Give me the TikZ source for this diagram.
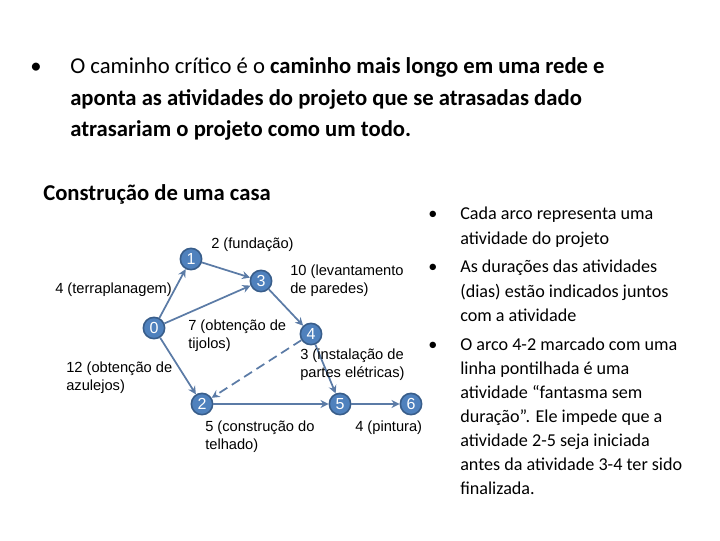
\documentclass[tikz,border=0pt]{standalone}
\usepackage{fontspec}
\setmainfont{Carlito}
\newfontfamily\arialf{Liberation Sans}
\usetikzlibrary{arrows.meta}
\definecolor{nodeblue}{HTML}{4F81BD}
\definecolor{nodeedge}{HTML}{385D8A}
\definecolor{arc}{HTML}{5B7BA6}
\tikzset{
  vtx/.style={circle,fill=nodeblue,draw=nodeedge,line width=1.2pt,minimum size=16pt,inner sep=0pt,text=white,font=\arialf\fontsize{12}{12}\selectfont},
  arcline/.style={draw=arc,line width=1.3pt,-{Stealth[length=6pt,width=6pt]}},
  lbl/.style={anchor=west,align=left,font=\arialf\fontsize{11}{13.5}\selectfont,inner sep=0pt},
  head/.style={anchor=base west,inner sep=0pt,font=\fontsize{17}{20}\selectfont},
  side/.style={anchor=base west,inner sep=0pt,font=\fontsize{13.6}{16}\selectfont}
}
\begin{document}
\begin{tikzpicture}[x=0.75pt,y=-0.75pt]
\useasboundingbox (0,0) rectangle (720,540);
% header
\node[head] (b0) at (30,73) {•};
\node[head] (h1) at (70,73) {O caminho crítico é o \textbf{caminho mais longo em uma rede e}};
\node[head] (h2) at (70,105) {\textbf{aponta as atividades do projeto que se atrasadas dado}};
\node[head] (h3) at (70,136) {\textbf{atrasariam o projeto como um todo.}};
\node[head] (t) at (43,200) {\textbf{Construção de uma casa}};
% right column
\node[side] (s0) at (428,219) {•};
\node[side] (s1) at (460,219) {Cada arco representa uma};
\node[side] (s2) at (460,244) {atividade do projeto};
\node[side] (s3b) at (428,272) {•};
\node[side] (s3) at (460,272) {As durações das atividades};
\node[side] (s4) at (460,297) {(dias) estão indicados juntos};
\node[side] (s5) at (460,321) {com a atividade};
\node[side] (s6b) at (428,350) {•};
\node[side] (s6) at (460,350) {O arco 4-2 marcado com uma};
\node[side] (s7) at (460,374) {linha pontilhada é uma};
\node[side] (s8) at (460,398) {atividade “fantasma sem};
\node[side] (s9) at (460,422) {duração”. Ele impede que a};
\node[side] (s10) at (460,446) {atividade 2-5 seja iniciada};
\node[side] (s11) at (460,470) {antes da atividade 3-4 ter sido};
\node[side] (s12) at (460,494) {finalizada.};
% graph
\node[vtx] (n0) at (154,328) {0};
\node[vtx] (n1) at (191,259) {1};
\node[vtx] (n3) at (261,281) {3};
\node[vtx] (n4) at (311,334) {4};
\node[vtx] (n2) at (202,404) {2};
\node[vtx] (n5) at (340,404) {5};
\node[vtx] (n6) at (411,404) {6};
\draw[arcline] (n0) -- (n1);
\draw[arcline] (n1) -- (n3);
\draw[arcline] (n0) -- (n3);
\draw[arcline] (n3) -- (n4);
\draw[arcline] (n0) -- (n2);
\draw[arcline] (n4) -- (n5);
\draw[arcline] (n2) -- (n5);
\draw[arcline] (n5) -- (n6);
\draw[arcline,dashed,dash pattern=on 7pt off 4pt] (n4) -- (n2);
% labels
\node[lbl] (l1) at (211,245) {2 (fundação)};
\node[lbl] (l2) at (290,281) {10 (levantamento\\de paredes)};
\node[lbl] (l3) at (55,290) {4 (terraplanagem)};
\node[lbl] (l4) at (188,336) {7 (obtenção de\\tijolos)};
\node[lbl] (l5) at (66,378) {12 (obtenção de\\azulejos)};
\node[lbl] (l6) at (300,365) {3 (instalação de\\partes elétricas)};
\node[lbl] (l7) at (205,437) {5 (construção do\\telhado)};
\node[lbl] (l8) at (355,428) {4 (pintura)};
\end{tikzpicture}
\end{document}
